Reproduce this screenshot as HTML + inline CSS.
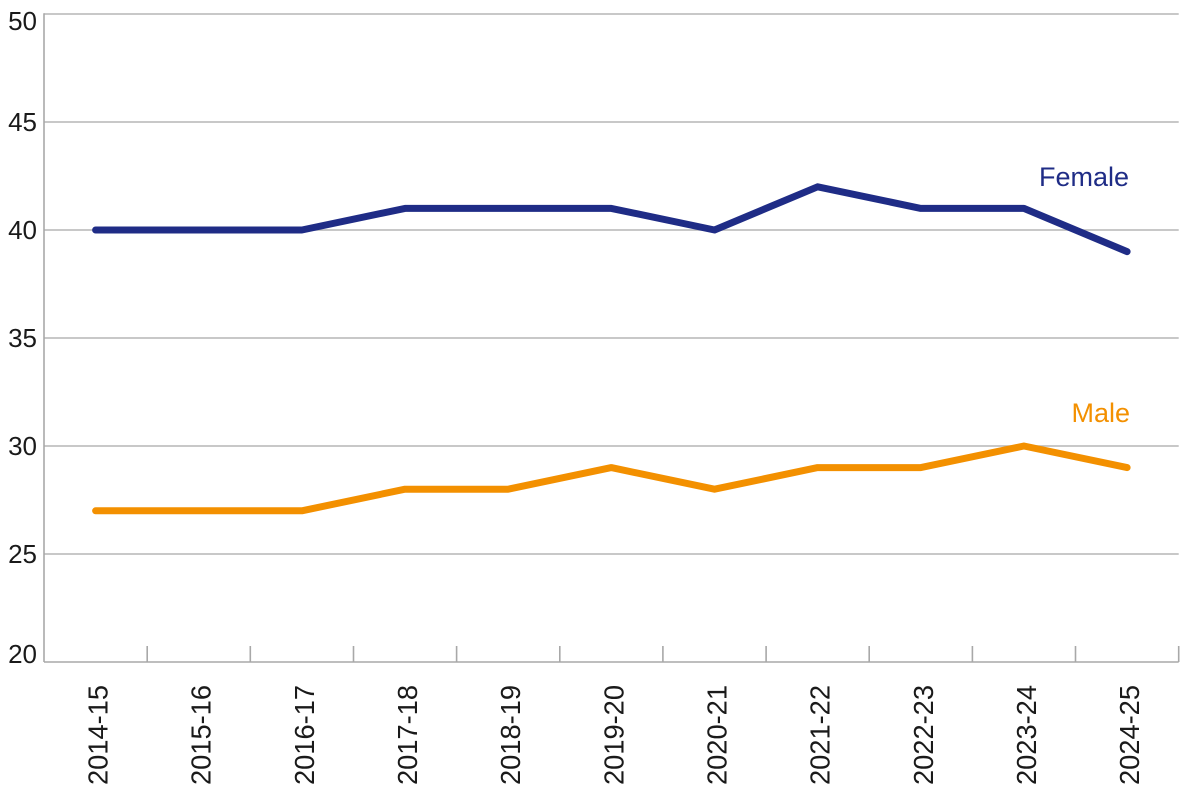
<!DOCTYPE html>
<html><head><meta charset="utf-8"><style>
html,body{margin:0;padding:0;background:#fff;}
svg{display:block;}
text{font-family:"Liberation Sans",sans-serif;fill:#1a1a1a;}
</style></head><body>
<svg width="1200" height="799" viewBox="0 0 1200 799" xmlns="http://www.w3.org/2000/svg">
<g stroke="#b5b5b5" stroke-width="1.4" fill="none">
<line x1="44" y1="14" x2="1178.7" y2="14"/>
<line x1="44" y1="122" x2="1178.7" y2="122"/>
<line x1="44" y1="230" x2="1178.7" y2="230"/>
<line x1="44" y1="338" x2="1178.7" y2="338"/>
<line x1="44" y1="446" x2="1178.7" y2="446"/>
<line x1="44" y1="554" x2="1178.7" y2="554"/>
</g>
<g stroke="#a8a8a8" stroke-width="1.6" fill="none">
<line x1="44" y1="13.3" x2="44" y2="662"/>
<line x1="44" y1="662" x2="1178.7" y2="662"/>
<line x1="147.2" y1="646" x2="147.2" y2="662"/>
<line x1="250.3" y1="646" x2="250.3" y2="662"/>
<line x1="353.5" y1="646" x2="353.5" y2="662"/>
<line x1="456.6" y1="646" x2="456.6" y2="662"/>
<line x1="559.8" y1="646" x2="559.8" y2="662"/>
<line x1="662.9" y1="646" x2="662.9" y2="662"/>
<line x1="766.1" y1="646" x2="766.1" y2="662"/>
<line x1="869.2" y1="646" x2="869.2" y2="662"/>
<line x1="972.4" y1="646" x2="972.4" y2="662"/>
<line x1="1075.5" y1="646" x2="1075.5" y2="662"/>
<line x1="1178.7" y1="646" x2="1178.7" y2="662"/>
</g>
<g font-size="26" text-anchor="end">
<text x="37" y="30">50</text>
<text x="37" y="131">45</text>
<text x="37" y="239">40</text>
<text x="37" y="347">35</text>
<text x="37" y="455">30</text>
<text x="37" y="563">25</text>
<text x="37" y="663">20</text>
</g>
<g font-size="28" text-anchor="end">
<text transform="translate(107.6,685) rotate(-90)" textLength="100" lengthAdjust="spacingAndGlyphs">2014-15</text>
<text transform="translate(210.7,685) rotate(-90)" textLength="100" lengthAdjust="spacingAndGlyphs">2015-16</text>
<text transform="translate(313.9,685) rotate(-90)" textLength="100" lengthAdjust="spacingAndGlyphs">2016-17</text>
<text transform="translate(417.0,685) rotate(-90)" textLength="100" lengthAdjust="spacingAndGlyphs">2017-18</text>
<text transform="translate(520.2,685) rotate(-90)" textLength="100" lengthAdjust="spacingAndGlyphs">2018-19</text>
<text transform="translate(623.3,685) rotate(-90)" textLength="100" lengthAdjust="spacingAndGlyphs">2019-20</text>
<text transform="translate(726.5,685) rotate(-90)" textLength="100" lengthAdjust="spacingAndGlyphs">2020-21</text>
<text transform="translate(829.6,685) rotate(-90)" textLength="100" lengthAdjust="spacingAndGlyphs">2021-22</text>
<text transform="translate(932.8,685) rotate(-90)" textLength="100" lengthAdjust="spacingAndGlyphs">2022-23</text>
<text transform="translate(1035.9,685) rotate(-90)" textLength="100" lengthAdjust="spacingAndGlyphs">2023-24</text>
<text transform="translate(1139.1,685) rotate(-90)" textLength="100" lengthAdjust="spacingAndGlyphs">2024-25</text>
</g>
<polyline fill="none" stroke="#1f2c86" stroke-width="7" stroke-linecap="round" stroke-linejoin="round"
points="95.6,230 198.7,230 301.9,230 405.0,208.4 508.2,208.4 611.3,208.4 714.5,230 817.6,186.8 920.8,208.4 1023.9,208.4 1127.1,251.6"/>
<polyline fill="none" stroke="#f39000" stroke-width="7" stroke-linecap="round" stroke-linejoin="round"
points="95.6,510.8 198.7,510.8 301.9,510.8 405.0,489.2 508.2,489.2 611.3,467.6 714.5,489.2 817.6,467.6 920.8,467.6 1023.9,446 1127.1,467.6"/>
<text x="1129" y="186" font-size="27" text-anchor="end" style="fill:#1f2c86">Female</text>
<text x="1130" y="422" font-size="27" text-anchor="end" style="fill:#f39000">Male</text>
</svg>
</body></html>
